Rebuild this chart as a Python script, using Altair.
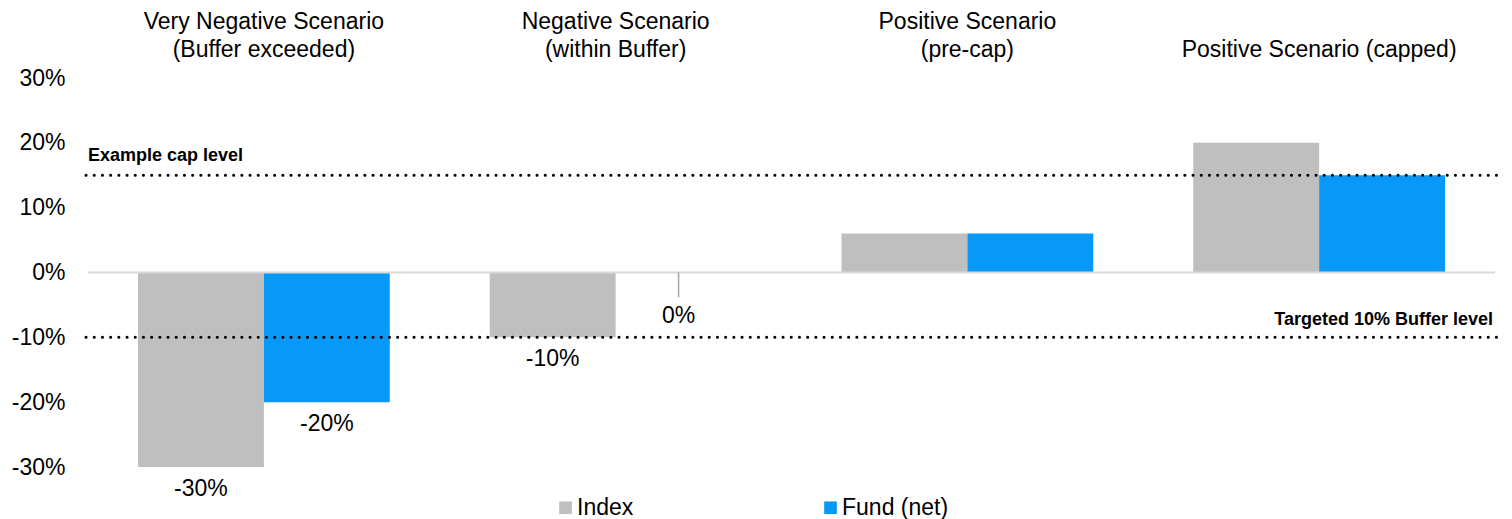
import altair as alt
import pandas as pd

categories = ["Very Negative Scenario|(Buffer exceeded)",
              "Negative Scenario|(within Buffer)",
              "Positive Scenario|(pre-cap)",
              "|Positive Scenario (capped)"]
series_names = ["Index", "Fund (net)"]
index_values = [-30, -10, 6, 20]
fund_values = [-20, 0, 6, 15]
series_colors = ["#bfbfbf", "#0898f8"]
cap_level = [15]
buffer_level = [-10]
cap_label = ["Example cap level"]
buffer_label = ["Targeted 10% Buffer level"]
y_ticks = [-30, -20, -10, 0, 10, 20, 30]

rows = []
for c, iv, fv in zip(categories, index_values, fund_values):
    rows.append({"cat": c, "series": series_names[0], "value": iv})
    rows.append({"cat": c, "series": series_names[1], "value": fv})
df = pd.DataFrame(rows)
df["label"] = df["value"].astype(int).astype(str) + "%"

FONT = "Liberation Sans"
W, H = 1407, 389

x_enc = alt.X("cat:N", sort=categories,
              scale=alt.Scale(paddingInner=0, paddingOuter=0),
              axis=alt.Axis(orient="top", title=None, ticks=False, domain=False,
                            labelAngle=0, labelFontSize=23, labelFont=FONT,
                            labelColor="#000000", labelPadding=45, labelLimit=0,
                            labelLineHeight=28, labelBaseline="bottom",
                            labelExpr="split(datum.label, '|')"))
xo_enc = alt.XOffset("series:N", sort=series_names,
                     scale=alt.Scale(paddingOuter=0.397, paddingInner=0))
y_scale = alt.Scale(domain=[-30, 30], nice=False, zero=False)

base = alt.Chart(df)

bars = base.mark_bar().encode(
    x=x_enc,
    xOffset=xo_enc,
    y=alt.Y("value:Q", scale=y_scale,
            axis=alt.Axis(title=None, values=y_ticks, grid=False, ticks=False,
                          domain=False, labelFontSize=23, labelFont=FONT,
                          labelColor="#000000", labelPadding=23,
                          labelExpr="datum.value + '%'")),
    color=alt.Color("series:N", sort=series_names,
                    scale=alt.Scale(domain=series_names, range=series_colors),
                    legend=alt.Legend(title=None, orient="none", direction="horizontal",
                                      legendX=466, legendY=418, symbolType="square",
                                      symbolSize=160, symbolStrokeWidth=0,
                                      labelFontSize=23, labelFont=FONT,
                                      labelColor="#000000", labelOffset=0,
                                      columnPadding=185)),
)

zero_rule = alt.Chart(pd.DataFrame({"v": [0]})).mark_rule(
    color="#d9d9d9", strokeWidth=2).encode(y=alt.Y("v:Q", scale=y_scale))

neg_labels = base.transform_filter("datum.value < 0").mark_text(
    baseline="middle", dy=22, fontSize=23, font=FONT, color="#000000").encode(
    x=alt.X("cat:N", sort=categories), xOffset=xo_enc,
    y=alt.Y("value:Q", scale=y_scale), text="label:N")

zero_leader = base.transform_filter("datum.value == 0").mark_rule(
    color="#a6a6a6", strokeWidth=1.5).encode(
    x=alt.X("cat:N", sort=categories), xOffset=xo_enc,
    y=alt.Y("value:Q", scale=y_scale), y2=alt.datum(-3.8))

zero_labels = base.transform_filter("datum.value == 0").mark_text(
    baseline="middle", dy=43, fontSize=23, font=FONT, color="#000000").encode(
    x=alt.X("cat:N", sort=categories), xOffset=xo_enc,
    y=alt.Y("value:Q", scale=y_scale), text="label:N")

cap_df = pd.DataFrame({"v": cap_level, "t": cap_label})
buf_df = pd.DataFrame({"v": buffer_level, "t": buffer_label})

dot_style = dict(color="#000000", strokeWidth=3, strokeDash=[0.1, 8.1], strokeCap="round")
cap_line = alt.Chart(cap_df).mark_rule(**dot_style).encode(
    y=alt.Y("v:Q", scale=y_scale), x=alt.value(-2), x2=alt.value(W + 2))
buf_line = alt.Chart(buf_df).mark_rule(**dot_style).encode(
    y=alt.Y("v:Q", scale=y_scale), x=alt.value(-2), x2=alt.value(W + 2))

cap_text = alt.Chart(cap_df).mark_text(
    align="left", baseline="bottom", dy=-10, fontSize=18, fontWeight="bold",
    font=FONT, color="#000000").encode(
    y=alt.Y("v:Q", scale=y_scale), x=alt.value(0), text="t:N")
buf_text = alt.Chart(buf_df).mark_text(
    align="right", baseline="bottom", dy=-8, fontSize=18, fontWeight="bold",
    font=FONT, color="#000000").encode(
    y=alt.Y("v:Q", scale=y_scale), x=alt.value(W - 2), text="t:N")

chart = alt.layer(
    bars, zero_rule, cap_line, buf_line, cap_text, buf_text,
    neg_labels, zero_leader, zero_labels
).properties(
    width=W, height=H,
    autosize=alt.AutoSizeParams(type="none"),
    padding={"left": 80, "top": 70, "right": 9, "bottom": 54},
).configure(background="#ffffff").configure_view(stroke=None)

chart.save("out.html", embed_options={"renderer": "svg", "actions": False})
